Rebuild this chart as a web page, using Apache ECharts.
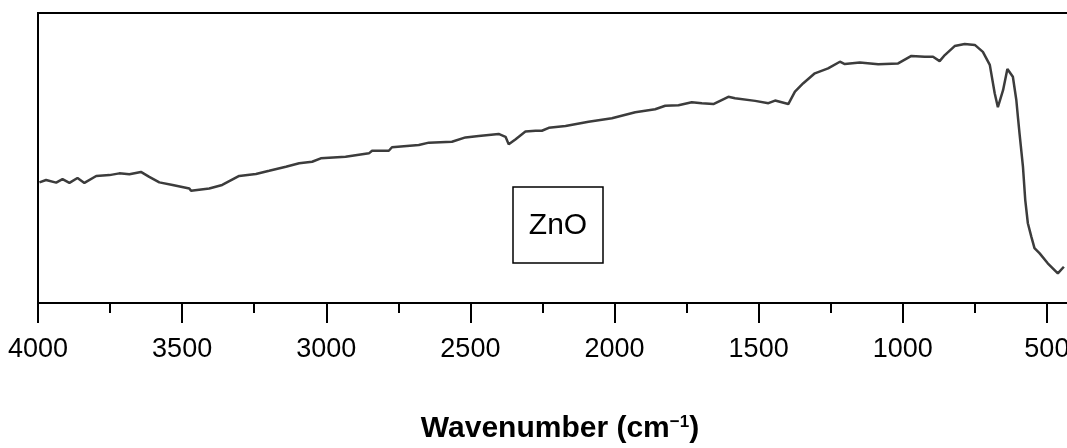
<!DOCTYPE html>
<html>
<head>
<meta charset="utf-8">
<title>ZnO FTIR</title>
<script src="https://cdn.jsdelivr.net/npm/echarts@6/dist/echarts.min.js"></script>
<style>
    html, body { margin: 0; padding: 0; background: #fff; overflow: hidden; }
    /* the original figure is cropped on the right, so the chart runs past the window */
    #chart { width: 1194px; height: 448px; }
</style>
</head>
<body>
<div id="chart"></div>
<script>
// wavenumber (cm-1) and transmittance (arbitrary units, 0..100)
const wavenumbers = [
    3995, 3972, 3937, 3915, 3891, 3863, 3839, 3798, 3752, 3718,
    3683, 3643, 3614, 3579, 3533, 3475, 3469, 3406, 3361, 3302,
    3244, 3198, 3140, 3094, 3049, 3019, 2933, 2852, 2841, 2783,
    2772, 2679, 2644, 2564, 2517, 2471, 2402, 2378, 2367, 2344,
    2309, 2274, 2252, 2228, 2170, 2090, 2009, 1928, 1859, 1824,
    1778, 1732, 1697, 1657, 1605, 1582, 1512, 1466, 1443, 1397,
    1393, 1374, 1345, 1305, 1259, 1218, 1201, 1149, 1085, 1016,
    970, 924, 895, 872, 854, 820, 785, 750, 722, 698,
    681, 670, 652, 637, 618, 606, 600, 595, 583, 575,
    566, 554, 543, 525, 497, 462, 441
];
const transmittance = [
    41.6, 42.4, 41.5, 42.7, 41.4, 43.1, 41.4, 43.8, 44.1, 44.7,
    44.4, 45.2, 43.5, 41.6, 40.7, 39.5, 38.7, 39.5, 40.7, 43.8,
    44.5, 45.6, 47.0, 48.2, 48.7, 49.9, 50.4, 51.6, 52.5, 52.5,
    53.7, 54.5, 55.3, 55.6, 57.1, 57.6, 58.3, 57.3, 54.7, 56.4,
    59.1, 59.4, 59.4, 60.4, 61.0, 62.5, 63.7, 65.8, 66.8, 68.0,
    68.2, 69.2, 68.9, 68.6, 71.1, 70.6, 69.7, 68.9, 69.8, 68.6,
    68.3, 72.9, 75.8, 79.2, 80.9, 83.2, 82.4, 82.9, 82.3, 82.6,
    85.2, 84.9, 84.9, 83.4, 85.5, 88.6, 89.3, 89.0, 86.6, 82.1,
    72.3, 67.5, 73.4, 80.7, 78.0, 70.0, 63.7, 58.6, 47.0, 35.5,
    27.5, 22.9, 18.9, 17.1, 13.7, 10.2, 12.5
];
const xTickStep = 500;
const sampleLabel = 'ZnO';

const FONT = "'Liberation Sans', Arial, sans-serif";

const chart = echarts.init(document.getElementById('chart'), null, { renderer: 'canvas' });

const points = wavenumbers.map((w, i) => [w, transmittance[i]]);

const option = {
    animation: false,
    backgroundColor: '#fff',
    grid: {
        left: 38,
        right: 0,
        top: 13,
        bottom: 145,
        show: true,
        borderColor: '#000',
        borderWidth: 2,
    },
    xAxis: {
        type: 'value',
        inverse: true,
        min: 0,
        max: 4000,
        interval: xTickStep,
        axisLine: { lineStyle: { color: '#000', width: 2 } },
        axisTick: { show: true, inside: false, length: 20, lineStyle: { color: '#000', width: 2 } },
        minorTick: { show: true, splitNumber: 2, length: 10, lineStyle: { color: '#000', width: 2 } },
        splitLine: { show: false },
        axisLabel: {
            margin: 33,
            color: '#000',
            fontSize: 27,
            fontFamily: FONT,
            formatter: (v) => (v === 0 ? '' : String(v)),
        },
    },
    yAxis: {
        type: 'value',
        min: 0,
        max: 100,
        axisLine: { show: true, lineStyle: { color: '#000', width: 2 } },
        axisTick: { show: false },
        axisLabel: { show: false },
        splitLine: { show: false },
    },
    series: [
        {
            type: 'line',
            data: points,
            showSymbol: false,
            smooth: false,
            lineStyle: { color: '#3c3c3c', width: 2.5 },
        },
    ],
    graphic: [
        {
            type: 'rect',
            shape: { x: 513, y: 187, width: 90, height: 76 },
            style: { fill: '#fff', stroke: '#000', lineWidth: 1.5 },
        },
        {
            type: 'text',
            x: 558,
            y: 226,
            style: {
                text: sampleLabel,
                fill: '#000',
                font: '30px ' + FONT,
                textAlign: 'center',
                textVerticalAlign: 'middle',
            },
        },
        {
            type: 'text',
            x: 560,
            y: 429,
            style: {
                text: '{a|Wavenumber (cm}{s|−1}{a|)}',
                textAlign: 'center',
                textVerticalAlign: 'middle',
                rich: {
                    a: { fontSize: 30, fontWeight: 'bold', fontFamily: FONT, fill: '#000', color: '#000' },
                    s: { fontSize: 17, fontWeight: 'bold', fontFamily: FONT, fill: '#000', color: '#000', verticalAlign: 'top', padding: [0, 0, 12, 0] },
                },
            },
        },
    ],
};

chart.setOption(option);
</script>
</body>
</html>
